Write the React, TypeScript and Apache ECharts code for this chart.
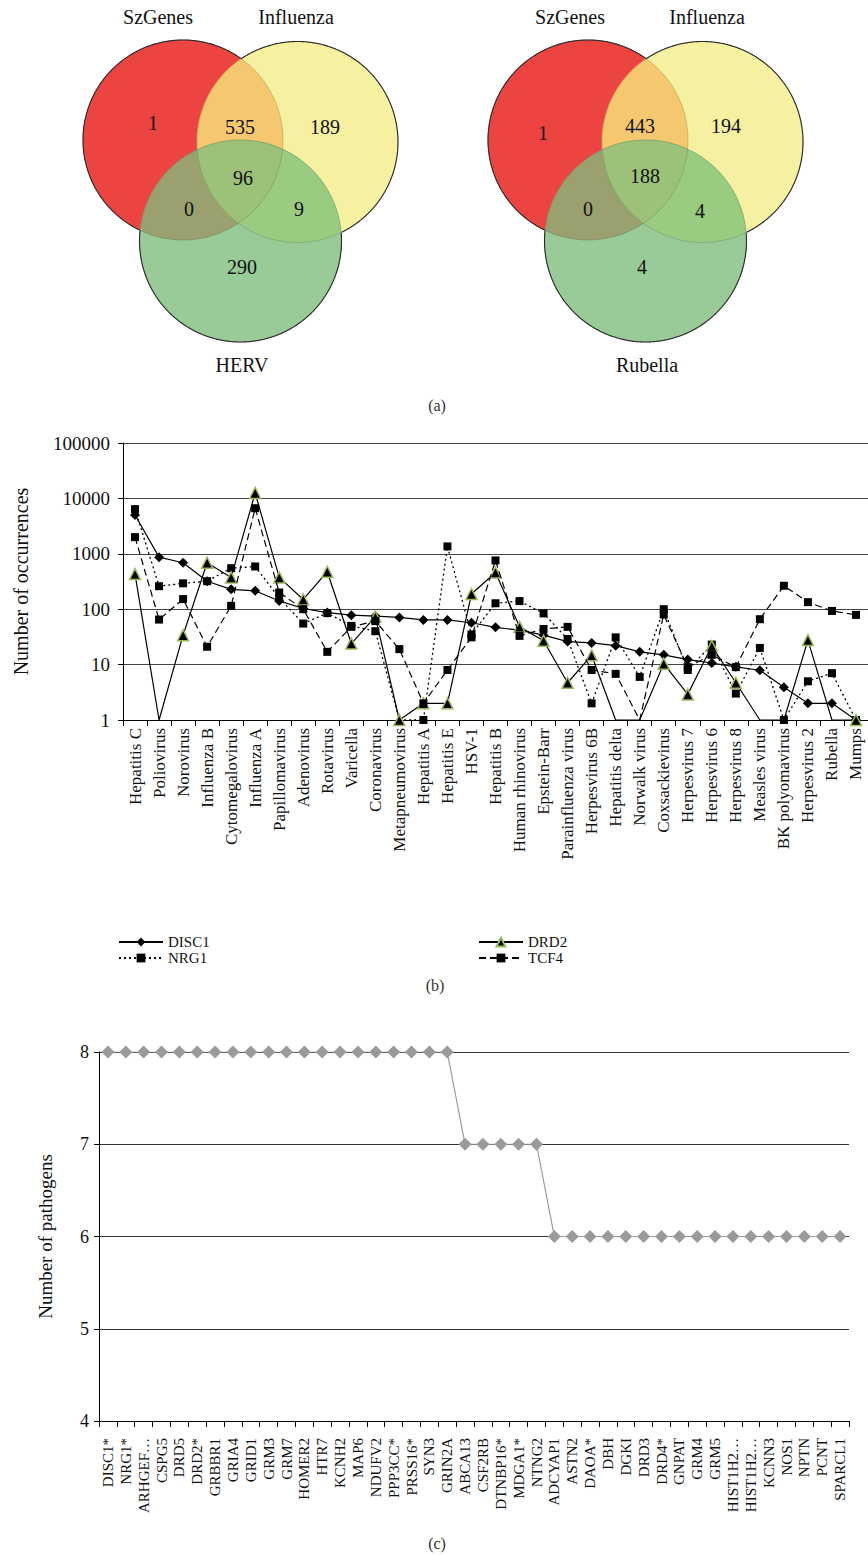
import React, { useEffect, useRef } from 'react';
import * as echarts from 'echarts';

const FONT = "'Liberation Serif', 'Times New Roman', serif";

// ---------- (a) Venn diagrams ----------
// region order: A only, A∩B, B only, A∩B∩C, A∩C, B∩C, C only
const vennLeftSets = ['SzGenes', 'Influenza', 'HERV'];
const vennLeftCounts = [1, 535, 189, 96, 0, 9, 290];
const vennRightSets = ['SzGenes', 'Influenza', 'Rubella'];
const vennRightCounts = [1, 443, 194, 188, 0, 4, 4];

// ---------- (b) occurrences per virus ----------
const viruses = [
  'Hepatitis C', 'Poliovirus', 'Norovirus', 'Influenza B', 'Cytomegalovirus', 'Influenza A',
  'Papillomavirus', 'Adenovirus', 'Rotavirus', 'Varicella', 'Coronavirus', 'Metapneumovirus',
  'Hepatitis A', 'Hepatitis E', 'HSV-1', 'Hepatitis B', 'Human rhinovirus', 'Epstein-Barr',
  'Parainfluenza virus', 'Herpesvirus 6B', 'Hepatitis delta', 'Norwalk virus', 'Coxsackievirus',
  'Herpesvirus 7', 'Herpesvirus 6', 'Herpesvirus 8', 'Measles virus', 'BK polyomavirus',
  'Herpesvirus 2', 'Rubella', 'Mumps',
];
const disc1 = [5000, 870, 690, 320, 228, 215, 141, 103, 87, 78, 75, 71, 64, 64, 57, 47, 42, 34, 26, 24.6, 22, 17, 15, 12.3, 10.7, 9.1, 7.9, 3.9, 2, 2, 1];
const nrg1 = [6400, 260, 293, 320, 550, 590, 160, 55, 85, 50, 40, 0, 1, 1360, 35, 128, 140, 84, 29, 2, 31, 6, 100, 8, 23, 3, 20, 1, 5, 7, 1];
const drd2 = [430, 0, 34, 690, 375, 12500, 375, 150, 475, 24, 73, 1, 2, 2, 188, 460, 48, 27, 4.7, 14.7, 0, 0, 10.4, 2.9, 21.6, 4.7, 0, 0, 27.7, 0, 1];
const tcf4 = [2000, 65, 152, 21, 115, 6650, 200, 100, 17, 48, 61, 19, 2, 8, 31, 760, 33, 44, 48, 8, 6.8, 0, 80, 9, 15, 9, 66, 265, 134, 93, 79];
const occurrenceTicks = [1, 10, 100, 1000, 10000, 100000];

// ---------- (c) pathogens per gene ----------
const genes = [
  'DISC1*', 'NRG1*', 'ARHGEF…', 'CSPG5', 'DRD5', 'DRD2*', 'GRBBR1', 'GRIA4', 'GRID1', 'GRM3',
  'GRM7', 'HOMER2', 'HTR7', 'KCNH2', 'MAP6', 'NDUFV2', 'PPP3CC*', 'PRSS16*', 'SYN3', 'GRIN2A',
  'ABCA13', 'CSF2RB', 'DTNBP16*', 'MDGA1*', 'NTNG2',
  'ADCYAP1', 'ASTN2', 'DAOA*', 'DBH', 'DGKI', 'DRD3', 'DRD4*', 'GNPAT', 'GRM4', 'GRM5',
  'HIST1H2…', 'HIST1H2…', 'KCNN3', 'NOS1', 'NPTN', 'PCNT', 'SPARCL1',
];
const pathogenCounts = [
  8, 8, 8, 8, 8, 8, 8, 8, 8, 8, 8, 8, 8, 8, 8, 8, 8, 8, 8, 8,
  7, 7, 7, 7, 7,
  6, 6, 6, 6, 6, 6, 6, 6, 6, 6, 6, 6, 6, 6, 6, 6, 6,
];

// ---------- geometry helpers for Venn ----------
type Circ = { x: number; y: number; r: number };
type Pt = [number, number];

function intersections(a: Circ, b: Circ): [Pt, Pt] {
  const dx = b.x - a.x, dy = b.y - a.y;
  const d = Math.hypot(dx, dy);
  const l = (a.r * a.r - b.r * b.r + d * d) / (2 * d);
  const h = Math.sqrt(Math.max(0, a.r * a.r - l * l));
  const mx = a.x + (dx * l) / d, my = a.y + (dy * l) / d;
  return [
    [mx - (h * dy) / d, my + (h * dx) / d],
    [mx + (h * dy) / d, my - (h * dx) / d],
  ];
}
function arcPts(c: Circ, p: Pt, q: Pt, n = 48): Pt[] {
  const a1 = Math.atan2(p[1] - c.y, p[0] - c.x);
  let d = Math.atan2(q[1] - c.y, q[0] - c.x) - a1;
  while (d > Math.PI) d -= 2 * Math.PI;
  while (d < -Math.PI) d += 2 * Math.PI;
  const out: Pt[] = [];
  for (let k = 0; k <= n; k++) {
    const a = a1 + (d * k) / n;
    out.push([c.x + c.r * Math.cos(a), c.y + c.r * Math.sin(a)]);
  }
  return out;
}
const inside = (p: Pt, c: Circ) => Math.hypot(p[0] - c.x, p[1] - c.y) < c.r + 0.01;
function lens(a: Circ, b: Circ): Pt[] {
  const [p, q] = intersections(a, b);
  return [...arcPts(a, p, q), ...arcPts(b, q, p)];
}
function triple(a: Circ, b: Circ, c: Circ): Pt[] {
  const ab = intersections(a, b).find((p) => inside(p, c)) as Pt;
  const bc = intersections(b, c).find((p) => inside(p, a)) as Pt;
  const ca = intersections(c, a).find((p) => inside(p, b)) as Pt;
  return [...arcPts(b, ab, bc), ...arcPts(c, bc, ca), ...arcPts(a, ca, ab)];
}
function circlePts(c: Circ, n = 180): Pt[] {
  const out: Pt[] = [];
  for (let k = 0; k < n; k++) {
    const a = (2 * Math.PI * k) / n;
    out.push([c.x + c.r * Math.cos(a), c.y + c.r * Math.sin(a)]);
  }
  return out;
}
function outerRuns(c: Circ, others: Circ[]): Pt[][] {
  const N = 720;
  const pts: Pt[] = [];
  const flags: boolean[] = [];
  for (let k = 0; k < N; k++) {
    const a = (2 * Math.PI * k) / N;
    const p: Pt = [c.x + c.r * Math.cos(a), c.y + c.r * Math.sin(a)];
    pts.push(p);
    flags.push(others.every((o) => Math.hypot(p[0] - o.x, p[1] - o.y) > o.r));
  }
  const s = flags.indexOf(false);
  if (s < 0) return [[...pts, pts[0]]];
  const runs: Pt[][] = [];
  let cur: Pt[] | null = null;
  for (let i = 0; i <= N; i++) {
    const idx = (s + i) % N;
    if (flags[idx]) {
      if (!cur) cur = [];
      cur.push(pts[idx]);
    } else if (cur) {
      runs.push(cur);
      cur = null;
    }
  }
  if (cur) runs.push(cur);
  return runs;
}

const COL = {
  a: '#EC4441', b: '#F5F1A1', c: '#98CB98',
  ab: '#F5C870', ac: '#9BA06F', bc: '#99CC80', abc: '#9CC27A',
};

function vennGraphics(circles: Circ[], sets: string[], counts: number[], setPos: Pt[], countPos: Pt[]) {
  const [A, B, C] = circles;
  const els: any[] = [];
  let z = 10;
  const poly = (points: Pt[], fill: string) =>
    els.push({ type: 'polygon', z: z++, silent: true, shape: { points }, style: { fill, stroke: fill, lineWidth: 0.3 } });
  poly(circlePts(A), COL.a);
  poly(circlePts(B), COL.b);
  poly(circlePts(C), COL.c);
  poly(lens(A, B), COL.ab);
  poly(lens(A, C), COL.ac);
  poly(lens(B, C), COL.bc);
  poly(triple(A, B, C), COL.abc);
  circles.forEach((c) =>
    els.push({ type: 'circle', z: z++, silent: true, shape: { cx: c.x, cy: c.y, r: c.r }, style: { fill: 'none', stroke: 'rgba(60,60,60,0.25)', lineWidth: 0.8 } })
  );
  circles.forEach((c, i) => {
    outerRuns(c, circles.filter((_, j) => j !== i)).forEach((run) =>
      els.push({ type: 'polyline', z: z++, silent: true, shape: { points: run }, style: { fill: 'none', stroke: '#2a2a2a', lineWidth: 1.1 } })
    );
  });
  const txt = (s: string, p: Pt) =>
    els.push({
      type: 'text', z: z++, silent: true, x: p[0], y: p[1],
      style: { text: s, fontFamily: FONT, fontSize: 20, fill: '#111', align: 'center', verticalAlign: 'middle', textAlign: 'center', textVerticalAlign: 'middle' },
    });
  sets.forEach((s, i) => txt(s, setPos[i]));
  counts.forEach((v, i) => txt(String(v), countPos[i]));
  return els;
}

const toLogPts = (arr: number[]) => arr.map((v) => (v > 0 ? v : { value: 1, symbol: 'none' }));

export default function App() {
  const ref = useRef<HTMLDivElement>(null);
  useEffect(() => {
    if (!ref.current) return;
    const chart = echarts.init(ref.current, undefined, { renderer: 'svg' });

    const leftCircles: Circ[] = [
      { x: 183, y: 140, r: 100 },
      { x: 297.5, y: 142, r: 100.5 },
      { x: 240.5, y: 241, r: 101 },
    ];
    const rightCircles: Circ[] = leftCircles.map((c) => ({ ...c, x: c.x + 405 }));

    const graphics: any[] = [
      ...vennGraphics(
        leftCircles, vennLeftSets, vennLeftCounts,
        [[158, 17], [296, 17], [242, 365]],
        [[153, 123], [240, 127], [325, 127], [243, 178], [189, 209], [299, 209], [242, 267]]
      ),
      ...vennGraphics(
        rightCircles, vennRightSets, vennRightCounts,
        [[570, 17], [707, 17], [647, 365]],
        [[543, 133], [640, 126], [726, 126], [645, 176], [588, 209], [700, 211], [642, 267]]
      ),
    ];
    const cap = (s: string, x: number, y: number) =>
      graphics.push({
        type: 'text', z: 200, silent: true, x, y,
        style: { text: s, fontFamily: FONT, fontSize: 16, fill: '#333', align: 'center', verticalAlign: 'middle', textAlign: 'center', textVerticalAlign: 'middle' },
      });
    cap('(a)', 437, 405);
    cap('(b)', 435, 985);
    cap('(c)', 437, 1543);

    const lineBase = { type: 'line', xAxisIndex: 0, yAxisIndex: 0 };
    const legendText = { fontFamily: FONT, fontSize: 15, color: '#111', lineHeight: 16 };

    chart.setOption({
      animation: false,
      textStyle: { fontFamily: FONT },
      grid: [
        { left: 123, right: -6, top: 443, height: 277 },
        { left: 99, right: 19, top: 1052, height: 369 },
      ],
      legend: [
        {
          data: ['DISC1', 'NRG1'], orient: 'vertical', left: 118, top: 934, padding: 0,
          itemWidth: 44, itemHeight: 11, itemGap: 0, selectedMode: false, textStyle: legendText,
        },
        {
          data: ['DRD2', 'TCF4'], orient: 'vertical', left: 478, top: 934, padding: 0,
          itemWidth: 44, itemHeight: 11, itemGap: 0, selectedMode: false, textStyle: legendText,
        },
      ],
      xAxis: [
        {
          gridIndex: 0, type: 'category', data: viruses, boundaryGap: true,
          axisLine: { lineStyle: { color: '#000', width: 1 } },
          axisTick: { show: true, interval: 0, length: 6, lineStyle: { color: '#000' } },
          axisLabel: { interval: 0, rotate: 90, margin: 8, fontSize: 17, color: '#111', fontFamily: FONT },
          splitLine: { show: false },
        },
        {
          gridIndex: 1, type: 'category', data: genes, boundaryGap: true,
          axisLine: { lineStyle: { color: '#000', width: 1 } },
          axisTick: { show: true, interval: 0, length: 6, lineStyle: { color: '#000' } },
          axisLabel: { interval: 0, rotate: 90, margin: 17, fontSize: 15, color: '#111', fontFamily: FONT },
          splitLine: { show: false },
        },
      ],
      yAxis: [
        {
          gridIndex: 0, type: 'log', logBase: 10,
          min: occurrenceTicks[0], max: occurrenceTicks[occurrenceTicks.length - 1],
          splitNumber: 5,
          name: 'Number of occurrences', nameLocation: 'middle', nameGap: 92,
          nameTextStyle: { fontFamily: FONT, fontSize: 20, color: '#111' },
          axisLine: { show: true, lineStyle: { color: '#000' } },
          axisTick: { show: true, length: 5, lineStyle: { color: '#000' } },
          axisLabel: { margin: 13, fontSize: 19, color: '#111', fontFamily: FONT, formatter: (v: number) => String(Math.round(v)) },
          splitLine: { show: true, lineStyle: { color: '#444', width: 1 } },
        },
        {
          gridIndex: 1, type: 'value', min: 4, max: 8, interval: 1,
          name: 'Number of pathogens', nameLocation: 'middle', nameGap: 44,
          nameTextStyle: { fontFamily: FONT, fontSize: 19, color: '#111' },
          axisLine: { show: true, lineStyle: { color: '#000' } },
          axisTick: { show: true, length: 5, lineStyle: { color: '#000' } },
          axisLabel: { margin: 10, fontSize: 18, color: '#111', fontFamily: FONT },
          splitLine: { show: true, lineStyle: { color: '#333', width: 1 } },
        },
      ],
      series: [
        {
          ...lineBase, name: 'DISC1', data: toLogPts(disc1), symbol: 'diamond', symbolSize: 10,
          itemStyle: { color: '#000' }, lineStyle: { color: '#000', width: 1.2, type: 'solid' }, z: 3,
        },
        {
          ...lineBase, name: 'NRG1', data: toLogPts(nrg1), symbol: 'rect', symbolSize: 8,
          itemStyle: { color: '#000' }, lineStyle: { color: '#000', width: 1.3, type: [2, 3] }, z: 4,
        },
        {
          ...lineBase, name: 'DRD2', data: toLogPts(drd2), symbol: 'triangle', symbolSize: 11,
          itemStyle: { color: '#000', borderColor: '#9BBB59', borderWidth: 1.5 },
          lineStyle: { color: '#000', width: 1.2, type: 'solid' }, z: 5,
        },
        {
          ...lineBase, name: 'TCF4', data: toLogPts(tcf4), symbol: 'rect', symbolSize: 8,
          itemStyle: { color: '#000' }, lineStyle: { color: '#000', width: 1.2, type: [7, 4] }, z: 6,
        },
        {
          type: 'line', name: 'Pathogens', xAxisIndex: 1, yAxisIndex: 1, data: pathogenCounts,
          symbol: 'diamond', symbolSize: 13,
          itemStyle: { color: '#9a9a9a' }, lineStyle: { color: '#9a9a9a', width: 1.2 },
        },
      ],
      graphic: graphics,
    });
    return () => chart.dispose();
  }, []);
  return (
    <div
      ref={ref}
      style={{ position: 'absolute', left: 0, top: 0, width: 868, height: 1555, overflow: 'hidden', background: '#fff' }}
    />
  );
}
